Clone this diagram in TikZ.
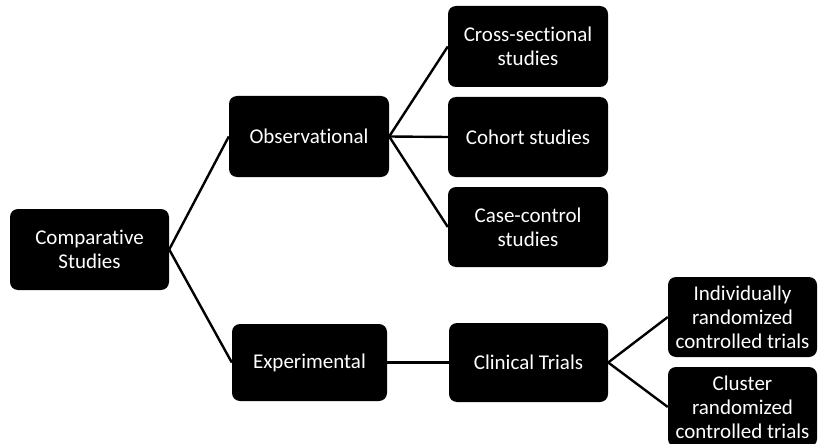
\documentclass[tikz,border=0pt]{standalone}
\usepackage{fontspec}
\setmainfont[Ligatures={NoCommon}]{Carlito}
\begin{document}
\begin{tikzpicture}[x=1pt,y=-1pt,
  box/.style={fill=black, text=white, rounded corners=8pt, align=center,
    font=\fontsize{21}{24}\selectfont, inner sep=0pt},
  link/.style={line width=2.4pt, black}]
\useasboundingbox (0,0) rectangle (825,444);
\node[box, minimum width=159pt, minimum height=81pt] (comp) at (89.5,249.5) {Comparative\\Studies};
\node[box, minimum width=160pt, minimum height=81pt] (obs) at (309,136.5) {Observational};
\node[box, minimum width=155pt, minimum height=77pt] (exp) at (309.5,362.5) {Experimental};
\node[box, minimum width=160pt, minimum height=81pt] (cross) at (528,46.5) {Cross-sectional\\studies};
\node[box, minimum width=160pt, minimum height=80pt] (coh) at (528,137) {Cohort studies};
\node[box, minimum width=160pt, minimum height=80pt] (case) at (528,227) {Case-control\\studies};
\node[box, minimum width=159pt, minimum height=79pt] (clin) at (528.5,362.5) {Clinical Trials};
\node[box, minimum width=149pt, minimum height=80pt] (ind) at (742.5,317) {Individually\\randomized\\controlled trials};
\node[box, minimum width=149pt, minimum height=80pt] (clu) at (742.5,407) {Cluster\\randomized\\controlled trials};
\draw[link] (comp.east) -- (obs.west);
\draw[link] (comp.east) -- (exp.west);
\draw[link] (obs.east) -- (cross.west);
\draw[link] (obs.east) -- (coh.west);
\draw[link] (obs.east) -- (case.west);
\draw[link] (exp.east) -- (clin.west);
\draw[link] (clin.east) -- (ind.west);
\draw[link] (clin.east) -- (clu.west);
\end{tikzpicture}
\end{document}
